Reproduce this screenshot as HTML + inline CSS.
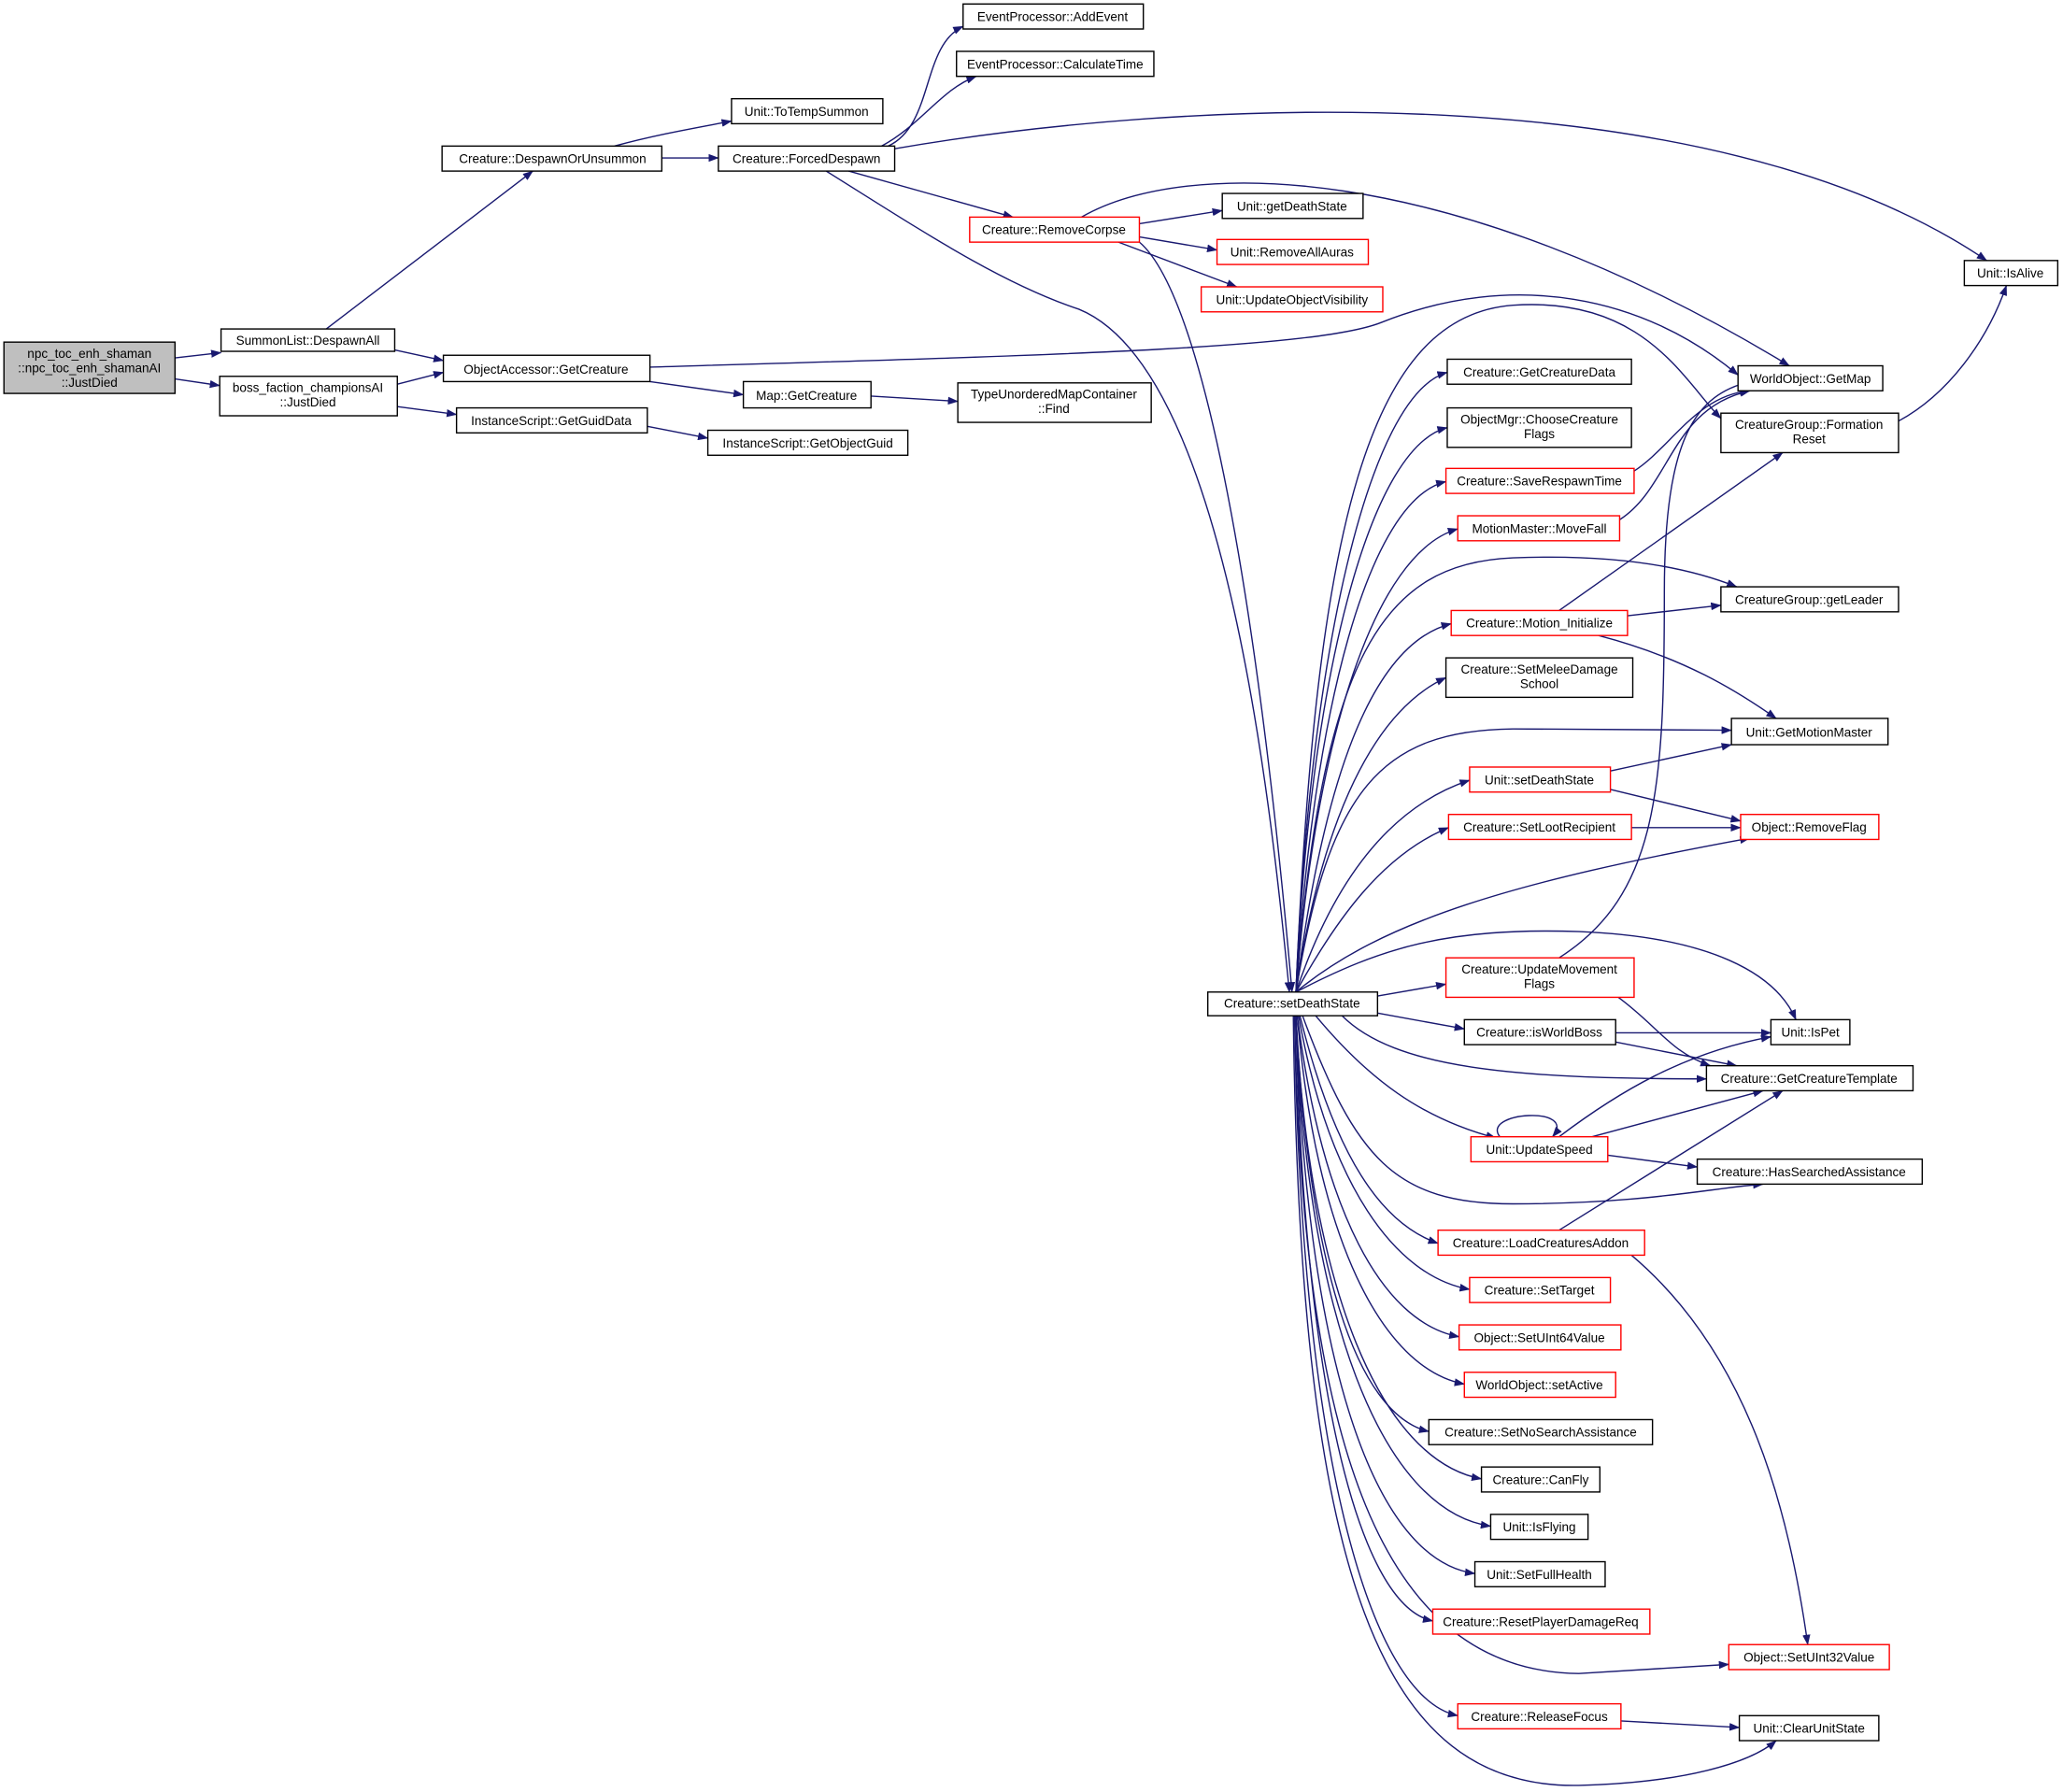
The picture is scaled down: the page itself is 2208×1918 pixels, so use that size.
<!DOCTYPE html>
<html><head><meta charset="utf-8"><style>
html,body{margin:0;padding:0;background:#fff;}
svg{display:block;}
text{font-family:"Liberation Sans",sans-serif;font-size:9.6px;fill:#000;text-anchor:middle;}
.n{fill:#fff;stroke:#000;stroke-width:1;}
.r{fill:#fff;stroke:#ff0000;stroke-width:1;}
.e{fill:none;stroke:#191970;stroke-width:1;marker-end:url(#a);}
</style></head><body>
<svg width="2208" height="1918" viewBox="0 0 1568 1362" xmlns="http://www.w3.org/2000/svg">
<defs><marker id="a" markerWidth="8" markerHeight="6" refX="7.5" refY="3" orient="auto" markerUnits="userSpaceOnUse"><path d="M0,0 L8,3 L0,6 z" fill="#191970"/></marker></defs>

<!-- edges -->
<path class="e" d="M133,272 L168,268"/>
<path class="e" d="M133,288 L167,293"/>
<path class="e" d="M248,250 L405,130"/>
<path class="e" d="M300,266 L337,274"/>
<path class="e" d="M302,292 L337,283"/>
<path class="e" d="M302,309 L347,315"/>
<path class="e" d="M467,111 C 500,102 530,97 556,92"/>
<path class="e" d="M503,120 L546,120"/>
<path class="e" d="M675,111 C 710,95 700,35 732,20"/>
<path class="e" d="M670,111 C 700,95 715,68 742,58"/>
<path class="e" d="M680,113 C 900,75 1300,55 1510,198"/>
<path class="e" d="M645,130 L770,165"/>
<path class="e" d="M628,130 C 700,175 760,215 820,235 C 930,280 965,600 980,754"/>
<path class="e" d="M866,170 L929,160"/>
<path class="e" d="M866,180 L925,190"/>
<path class="e" d="M850,184 L940,218"/>
<path class="e" d="M822,165 C 900,120 1100,120 1360,278"/>
<path class="e" d="M866,184 C 920,230 960,500 982,754"/>
<path class="e" d="M494,279 C 800,270 1000,265 1050,245 C 1150,205 1250,225 1321,285"/>
<path class="e" d="M494,290 L565,300"/>
<path class="e" d="M662,301 L728,305"/>
<path class="e" d="M492,324 L538,333"/>
<path class="e" d="M1443,320 C 1480,300 1510,260 1525,217"/>
<!-- from setDeathState -->
<path class="e" d="M985,754 C 995,500 1040,300 1100,283"/>
<path class="e" d="M985,754 C 995,520 1040,340 1100,325"/>
<path class="e" d="M985,754 C 998,540 1040,380 1099,366"/>
<path class="e" d="M985,754 C 1000,560 1045,420 1108,402"/>
<path class="e" d="M985,754 C 1000,400 1040,240 1150,232 C 1250,225 1280,290 1308,318"/>
<path class="e" d="M985,754 C 1005,500 1050,428 1150,424 C 1250,420 1300,438 1320,446"/>
<path class="e" d="M985,754 C 1005,600 1040,490 1103,474"/>
<path class="e" d="M985,754 C 1005,620 1045,540 1099,515"/>
<path class="e" d="M985,754 C 1010,600 1050,555 1150,554 L1316,555"/>
<path class="e" d="M985,754 C 1010,680 1050,615 1117,593"/>
<path class="e" d="M985,754 C 1015,700 1050,650 1101,629"/>
<path class="e" d="M985,754 C 1050,700 1150,670 1330,637"/>
<path class="e" d="M985,754 C 1050,720 1100,705 1200,708 C 1300,712 1350,740 1365,775"/>
<path class="e" d="M1047,757 L1099,748"/>
<path class="e" d="M1047,770 L1113,782"/>
<path class="e" d="M1020,772 C 1060,812 1150,820 1297,820"/>
<path class="e" d="M1000,772 C 1040,820 1080,850 1137,865"/>
<path class="e" d="M990,772 C 1030,880 1060,915 1150,915 C 1250,915 1300,903 1340,900"/>
<path class="e" d="M988,772 C 1015,880 1050,930 1093,945"/>
<path class="e" d="M987,772 C 1010,900 1060,970 1117,980"/>
<path class="e" d="M986,772 C 1005,920 1050,1005 1109,1016"/>
<path class="e" d="M986,772 C 1000,940 1050,1040 1113,1052"/>
<path class="e" d="M985,772 C 995,960 1030,1075 1086,1088"/>
<path class="e" d="M985,772 C 995,980 1050,1110 1126,1124"/>
<path class="e" d="M985,772 C 993,1000 1050,1148 1133,1160"/>
<path class="e" d="M985,772 C 992,1020 1040,1185 1121,1196"/>
<path class="e" d="M985,772 C 990,1040 1030,1220 1089,1232"/>
<path class="e" d="M984,772 C 990,1100 1050,1270 1200,1272 L1314,1265"/>
<path class="e" d="M984,772 C 988,1100 1040,1290 1108,1304"/>
<path class="e" d="M983,772 C 988,1200 1050,1360 1200,1357 C 1280,1355 1330,1340 1350,1323"/>
<!-- secondary -->
<path class="e" d="M1242,358 C 1270,340 1290,300 1330,297"/>
<path class="e" d="M1231,395 C 1270,370 1270,310 1330,297"/>
<path class="e" d="M1185,464 L1355,344"/>
<path class="e" d="M1237,468 L1308,460"/>
<path class="e" d="M1215,483 C 1280,500 1320,525 1350,546"/>
<path class="e" d="M1224,586 L1316,566"/>
<path class="e" d="M1224,600 L1323,624"/>
<path class="e" d="M1240,629 L1323,629"/>
<path class="e" d="M1185,728 C 1260,680 1265,600 1265,450 C 1265,330 1290,300 1330,290"/>
<path class="e" d="M1230,758 C 1260,780 1270,800 1300,810"/>
<path class="e" d="M1228,785 L1346,785"/>
<path class="e" d="M1228,792 L1320,810"/>
<path class="e" d="M1185,864 C 1230,830 1280,800 1346,788"/>
<path class="e" d="M1210,864 L1340,829"/>
<path class="e" d="M1222,878 L1290,887"/>
<path class="e" d="M1140,864 C 1125,845 1200,840 1180,864"/>
<path class="e" d="M1185,935 L1355,829"/>
<path class="e" d="M1240,954 C 1330,1030 1360,1150 1374,1250"/>
<path class="e" d="M1232,1308 L1322,1313"/>

<!-- nodes -->
<rect x="3" y="260" width="130" height="39" fill="#bfbfbf" stroke="#000"/>
<text x="68" y="272">npc_toc_enh_shaman</text><text x="68" y="283">::npc_toc_enh_shamanAI</text><text x="68" y="294">::JustDied</text>
<rect class="n" x="168" y="250" width="132" height="17"/><text x="234" y="262">SummonList::DespawnAll</text>
<rect class="n" x="167" y="286" width="135" height="30"/><text x="234" y="298">boss_faction_championsAI</text><text x="234" y="309">::JustDied</text>
<rect class="n" x="336" y="111" width="167" height="19"/><text x="420" y="124">Creature::DespawnOrUnsummon</text>
<rect class="n" x="556" y="75" width="115" height="19"/><text x="613" y="88">Unit::ToTempSummon</text>
<rect class="n" x="546" y="111" width="134" height="19"/><text x="613" y="124">Creature::ForcedDespawn</text>
<rect class="n" x="732" y="3" width="137" height="19"/><text x="800" y="16">EventProcessor::AddEvent</text>
<rect class="n" x="727" y="39" width="150" height="19"/><text x="802" y="52">EventProcessor::CalculateTime</text>
<rect class="n" x="337" y="270" width="157" height="20"/><text x="415" y="284">ObjectAccessor::GetCreature</text>
<rect class="n" x="347" y="310" width="145" height="19"/><text x="419" y="323">InstanceScript::GetGuidData</text>
<rect class="n" x="538" y="327" width="152" height="19"/><text x="614" y="340">InstanceScript::GetObjectGuid</text>
<rect class="n" x="565" y="290" width="97" height="20"/><text x="613" y="304">Map::GetCreature</text>
<rect class="n" x="728" y="291" width="147" height="30"/><text x="801" y="303">TypeUnorderedMapContainer</text><text x="801" y="314">::Find</text>
<rect class="r" x="737" y="165" width="129" height="19"/><text x="801" y="178">Creature::RemoveCorpse</text>
<rect class="n" x="929" y="147" width="107" height="19"/><text x="982" y="160">Unit::getDeathState</text>
<rect class="r" x="925" y="182" width="115" height="19"/><text x="982" y="195">Unit::RemoveAllAuras</text>
<rect class="r" x="913" y="218" width="138" height="19"/><text x="982" y="231">Unit::UpdateObjectVisibility</text>
<rect class="n" x="1493" y="198" width="71" height="19"/><text x="1528" y="211">Unit::IsAlive</text>
<rect class="n" x="918" y="754" width="129" height="18"/><text x="982" y="766">Creature::setDeathState</text>

<rect class="n" x="1100" y="273" width="140" height="19"/><text x="1170" y="286">Creature::GetCreatureData</text>
<rect class="n" x="1100" y="310" width="140" height="30"/><text x="1170" y="322">ObjectMgr::ChooseCreature</text><text x="1170" y="333">Flags</text>
<rect class="r" x="1099" y="356" width="143" height="19"/><text x="1170" y="369">Creature::SaveRespawnTime</text>
<rect class="r" x="1108" y="392" width="123" height="19"/><text x="1170" y="405">MotionMaster::MoveFall</text>
<rect class="r" x="1103" y="464" width="134" height="19"/><text x="1170" y="477">Creature::Motion_Initialize</text>
<rect class="n" x="1099" y="500" width="142" height="30"/><text x="1170" y="512">Creature::SetMeleeDamage</text><text x="1170" y="523">School</text>
<rect class="r" x="1117" y="583" width="107" height="19"/><text x="1170" y="596">Unit::setDeathState</text>
<rect class="r" x="1101" y="619" width="139" height="19"/><text x="1170" y="632">Creature::SetLootRecipient</text>
<rect class="r" x="1099" y="728" width="143" height="30"/><text x="1170" y="740">Creature::UpdateMovement</text><text x="1170" y="751">Flags</text>
<rect class="n" x="1113" y="775" width="115" height="19"/><text x="1170" y="788">Creature::isWorldBoss</text>
<rect class="r" x="1118" y="864" width="104" height="19"/><text x="1170" y="877">Unit::UpdateSpeed</text>
<rect class="r" x="1093" y="935" width="157" height="19"/><text x="1171" y="948">Creature::LoadCreaturesAddon</text>
<rect class="r" x="1117" y="971" width="107" height="19"/><text x="1170" y="984">Creature::SetTarget</text>
<rect class="r" x="1109" y="1007" width="123" height="19"/><text x="1170" y="1020">Object::SetUInt64Value</text>
<rect class="r" x="1113" y="1043" width="115" height="19"/><text x="1170" y="1056">WorldObject::setActive</text>
<rect class="n" x="1086" y="1079" width="170" height="19"/><text x="1171" y="1092">Creature::SetNoSearchAssistance</text>
<rect class="n" x="1126" y="1115" width="90" height="19"/><text x="1171" y="1128">Creature::CanFly</text>
<rect class="n" x="1133" y="1151" width="74" height="19"/><text x="1170" y="1164">Unit::IsFlying</text>
<rect class="n" x="1121" y="1187" width="99" height="19"/><text x="1170" y="1200">Unit::SetFullHealth</text>
<rect class="r" x="1089" y="1223" width="165" height="19"/><text x="1171" y="1236">Creature::ResetPlayerDamageReq</text>
<rect class="r" x="1108" y="1295" width="124" height="19"/><text x="1170" y="1308">Creature::ReleaseFocus</text>

<rect class="n" x="1321" y="278" width="110" height="19"/><text x="1376" y="291">WorldObject::GetMap</text>
<rect class="n" x="1308" y="314" width="135" height="30"/><text x="1375" y="326">CreatureGroup::Formation</text><text x="1375" y="337">Reset</text>
<rect class="n" x="1308" y="446" width="135" height="19"/><text x="1375" y="459">CreatureGroup::getLeader</text>
<rect class="n" x="1316" y="546" width="119" height="20"/><text x="1375" y="560">Unit::GetMotionMaster</text>
<rect class="r" x="1323" y="619" width="105" height="19"/><text x="1375" y="632">Object::RemoveFlag</text>
<rect class="n" x="1346" y="775" width="60" height="19"/><text x="1376" y="788">Unit::IsPet</text>
<rect class="n" x="1297" y="810" width="157" height="19"/><text x="1375" y="823">Creature::GetCreatureTemplate</text>
<rect class="n" x="1290" y="881" width="171" height="19"/><text x="1375" y="894">Creature::HasSearchedAssistance</text>
<rect class="r" x="1314" y="1250" width="122" height="19"/><text x="1375" y="1263">Object::SetUInt32Value</text>
<rect class="n" x="1322" y="1304" width="106" height="19"/><text x="1375" y="1317">Unit::ClearUnitState</text>
</svg>
</body></html>
